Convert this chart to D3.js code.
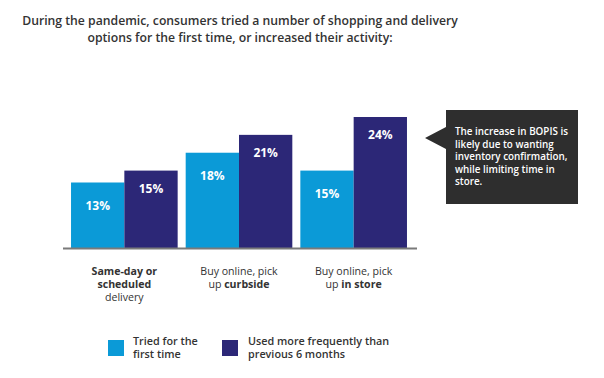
<!DOCTYPE html>
<html><head><meta charset="utf-8">
<script src="https://cdn.jsdelivr.net/npm/d3@7/dist/d3.min.js"></script>
<style>body{margin:0;background:#fff}svg{display:block}text{font-family:"Open Sans",sans-serif}</style>
</head><body><svg id="c" width="604" height="378"></svg>
<script>
const titleLines = ["During the pandemic, consumers tried a number of shopping and delivery","options for the first time, or increased their activity:"];
const categories = ["sameday","curbside","instore"];
const categoryLabels = [
  [[{t:"Same-day or",b:true}],[{t:"scheduled",b:true}],[{t:"delivery",b:false}]],
  [[{t:"Buy online, pick",b:false}],[{t:"up ",b:false},{t:"curbside",b:true}]],
  [[{t:"Buy online, pick",b:false}],[{t:"up ",b:false},{t:"in store",b:true}]]
];
const seriesNames = ["Tried for the first time","Used more frequently than previous 6 months"];
const legendLines = [["Tried for the","first time"],["Used more frequently than","previous 6 months"]];
const triedFirst = [13,18,15];
const usedMore = [15,21,24];
const calloutLines = ["The increase in BOPIS is","likely due to wanting","inventory confirmation,","while limiting time in","store."];
const colors = ["#0b9ad7","#2c2777"];

const svg = d3.select("#c");
const x0 = d3.scaleBand().domain(categories).range([63,415]).paddingInner(0.07).paddingOuter(0.07);
const x1 = d3.scaleBand().domain([0,1]).range([0,x0.bandwidth()]);
const y = d3.scaleLinear().domain([2,24]).range([248,117]);

function fit(sel, firstNode, target){
  const fs = parseFloat(sel.attr("font-size"));
  const w = firstNode.getComputedTextLength();
  sel.attr("font-size", (fs*target/w).toFixed(2));
}

// title
const tt = svg.append("text").attr("text-anchor","middle")
  .attr("font-size",13).attr("font-weight",600).attr("fill","#333");
tt.selectAll("tspan").data(titleLines).join("tspan")
  .attr("x",240).attr("y",(d,i)=>25+i*17).text(d=>d);
fit(tt, tt.select("tspan").node(), 436);

const series = [triedFirst, usedMore];
const bars = [];
categories.forEach((c,ci)=>series.forEach((s,si)=>bars.push({c,si,v:s[ci]})));

svg.append("g").selectAll("rect").data(bars).join("rect")
  .attr("x",d=>x0(d.c)+x1(d.si)).attr("width",x1.bandwidth())
  .attr("y",d=>y(d.v)).attr("height",d=>y.range()[0]-y(d.v))
  .attr("fill",d=>colors[d.si]);

svg.append("g").selectAll("text").data(bars).join("text")
  .attr("x",d=>x0(d.c)+x1(d.si)+x1.bandwidth()/2)
  .attr("y",d=>y(d.v)+(d.si===0?27:22))
  .attr("text-anchor","middle").attr("font-size",12).attr("font-weight",700).attr("fill","#fff")
  .text(d=>d.v+"%");

// axis baseline
svg.append("line").attr("x1",63).attr("x2",417).attr("y1",248.5).attr("y2",248.5)
  .attr("stroke","#7a7a7a").attr("stroke-width",2);

// category labels
const cl = svg.append("g");
categories.forEach((c,ci)=>{
  const t = cl.append("text").attr("text-anchor","middle").attr("font-size",10.6).attr("fill","#333");
  categoryLabels[ci].forEach((line,li)=>{
    line.forEach((seg,si)=>{
      const ts = t.append("tspan").attr("font-weight",seg.b?700:400).text(seg.t);
      if(si===0) ts.attr("x",x0(c)+x0.bandwidth()/2).attr("y",275+li*13);
    });
  });
});

// legend
const lg = svg.append("g");
const legX = [108,222];
seriesNames.forEach((n,i)=>{
  lg.append("rect").attr("x",legX[i]).attr("y",340).attr("width",16).attr("height",16).attr("fill",colors[i]);
  lg.append("text").attr("font-size",10.8).attr("font-weight",600).attr("fill","#333")
    .selectAll("tspan").data(legendLines[i]).join("tspan")
    .attr("x",legX[i]+(i===0?25:26)).attr("y",(d,j)=>344.5+j*13.5).text(d=>d);
});

// callout
const co = svg.append("g");
co.append("path").attr("d","M446,110 H578 V204 H446 V149 L425,138 L446,127 Z").attr("fill","#2e2e2e");
const ct = co.append("text").attr("font-size",10.5).attr("font-weight",600).attr("fill","#fff");
ct.selectAll("tspan").data(calloutLines).join("tspan")
  .attr("x",455).attr("y",(d,i)=>135+i*12.5).text(d=>d);
fit(ct, ct.select("tspan").node(), 113);
</script></body></html>
